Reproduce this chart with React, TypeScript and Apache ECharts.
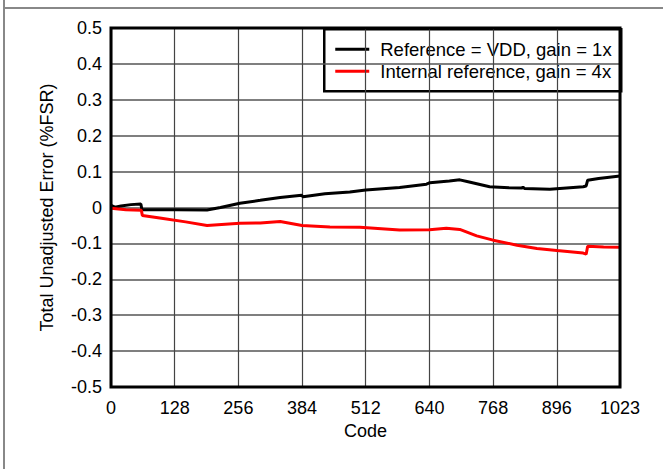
import React, { useEffect, useRef } from "react";
import * as echarts from "echarts";

const blackCodes = [0, 8, 20, 40, 60, 62, 64, 130, 193, 220, 259, 300, 340, 383, 386, 430, 480, 512, 580, 634, 641, 680, 701, 720, 761, 800, 826, 828, 831, 882, 949, 955, 958, 980, 1023];
const blackValues = [0.006, 0.001, 0.004, 0.008, 0.010, -0.005, -0.006, -0.006, -0.007, 0.0, 0.012, 0.020, 0.028, 0.034, 0.030, 0.038, 0.043, 0.049, 0.056, 0.065, 0.069, 0.074, 0.077, 0.071, 0.058, 0.055, 0.054, 0.057, 0.053, 0.051, 0.058, 0.060, 0.076, 0.081, 0.088];

const redCodes = [0, 30, 61, 63, 98, 150, 193, 259, 300, 340, 384, 440, 500, 580, 640, 674, 701, 735, 768, 816, 856, 896, 949, 955, 958, 990, 1023];
const redValues = [-0.002, -0.006, -0.008, -0.022, -0.029, -0.040, -0.050, -0.044, -0.043, -0.039, -0.050, -0.054, -0.055, -0.063, -0.062, -0.058, -0.061, -0.079, -0.091, -0.105, -0.114, -0.120, -0.127, -0.130, -0.108, -0.110, -0.111];

const xTicks = [0, 128, 256, 384, 512, 640, 768, 896, 1023];
const seriesNames = ["Reference = VDD, gain = 1x", "Internal reference, gain = 4x"];
const seriesColors = ["#000000", "#ff0000"];

const FONT = "'Liberation Sans', Arial, Helvetica, sans-serif";

export default function App() {
  const ref = useRef<HTMLDivElement>(null);
  useEffect(() => {
    if (!ref.current) return;
    const chart = echarts.init(ref.current, null, { renderer: "svg" });
    const gridLeft = 111;
    const gridTop = 28;
    const gridWidth = 509;
    const gridHeight = 359;
    const legendLeft = 323;
    const legendTop = 28;
    chart.setOption({
      animation: false,
      backgroundColor: "#ffffff",
      grid: {
        left: gridLeft,
        top: gridTop,
        width: gridWidth,
        height: gridHeight,
        show: true,
        borderColor: "#000",
        borderWidth: 3,
        backgroundColor: "transparent",
        z: 3,
      },
      xAxis: {
        type: "value",
        min: 0,
        max: 1023,
        interval: 128,
        name: "Code",
        nameLocation: "middle",
        nameGap: 33,
        nameTextStyle: { fontFamily: FONT, fontSize: 18, color: "#000" },
        axisLine: { show: false },
        axisTick: { show: false },
        axisLabel: {
          fontFamily: FONT,
          fontSize: 18,
          color: "#000",
          margin: 12,
          showMaxLabel: true,
          customValues: xTicks,
          formatter: (v: number) => String(v),
        },
        splitLine: { show: true, lineStyle: { color: "#444", width: 1.2 } },
      },
      yAxis: {
        type: "value",
        min: -0.5,
        max: 0.5,
        interval: 0.1,
        name: "Total Unadjusted Error (%FSR)",
        nameLocation: "middle",
        nameGap: 55,
        nameTextStyle: { fontFamily: FONT, fontSize: 18, color: "#000" },
        axisLine: { show: false },
        axisTick: { show: false },
        axisLabel: {
          fontFamily: FONT,
          fontSize: 18,
          color: "#000",
          margin: 9,
          formatter: (v: number) => {
            const r = Math.round(v * 10) / 10;
            return r === 0 ? "0" : r.toFixed(1);
          },
        },
        splitLine: { show: true, lineStyle: { color: "#555", width: 1.5 } },
      },
      series: [
        {
          name: seriesNames[0],
          type: "line",
          data: blackCodes.map((c, i) => [c, blackValues[i]]),
          symbol: "none",
          lineStyle: { color: seriesColors[0], width: 3 },
          itemStyle: { color: seriesColors[0] },
          z: 2,
        },
        {
          name: seriesNames[1],
          type: "line",
          data: redCodes.map((c, i) => [c, redValues[i]]),
          symbol: "none",
          lineStyle: { color: seriesColors[1], width: 3 },
          itemStyle: { color: seriesColors[1] },
          z: 2,
        },
      ],
      graphic: [
        { type: "line", shape: { x1: 4, y1: 0, x2: 4, y2: 469 }, style: { stroke: "#888", lineWidth: 2 }, z: 10 },
        { type: "line", shape: { x1: 4, y1: 8, x2: 663, y2: 8 }, style: { stroke: "#888", lineWidth: 2 }, z: 10 },
        {
          type: "group",
          left: legendLeft,
          top: legendTop,
          z: 20,
          children: [
            { type: "rect", shape: { x: 0, y: 0, width: 297, height: 62 }, style: { fill: "#fff", stroke: "#000", lineWidth: 2.5 } },
            { type: "line", shape: { x1: 11, y1: 20, x2: 45, y2: 20 }, style: { stroke: seriesColors[0], lineWidth: 3 } },
            { type: "text", x: 56, y: 20, style: { text: seriesNames[0], fontFamily: FONT, fontSize: 18.5, fill: "#000", verticalAlign: "middle", align: "left" } },
            { type: "line", shape: { x1: 11, y1: 42, x2: 45, y2: 42 }, style: { stroke: seriesColors[1], lineWidth: 3 } },
            { type: "text", x: 56, y: 42, style: { text: seriesNames[1], fontFamily: FONT, fontSize: 18.5, fill: "#000", verticalAlign: "middle", align: "left" } },
          ],
        },
      ],
    });
    return () => chart.dispose();
  }, []);
  return <div ref={ref} style={{ position: "absolute", left: 0, top: 0, width: 663, height: 469 }} />;
}
